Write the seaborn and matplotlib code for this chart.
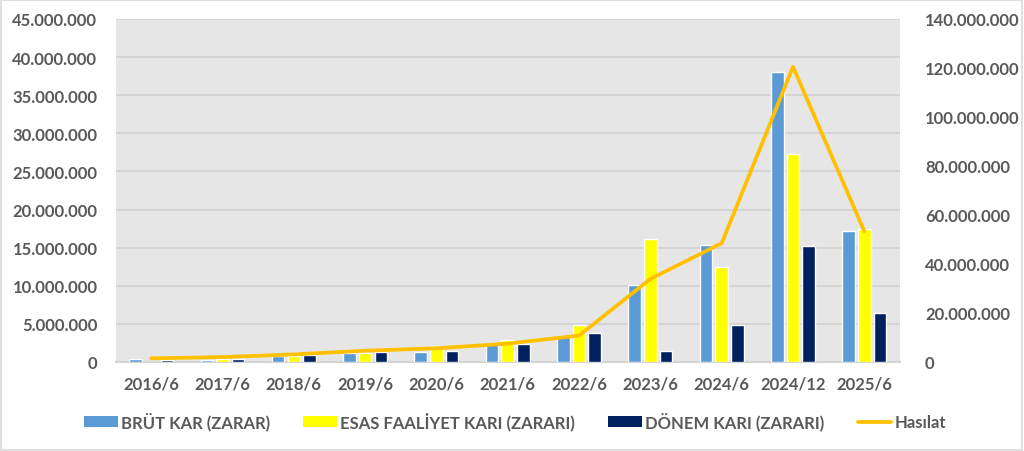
import numpy as np
import pandas as pd
import matplotlib
matplotlib.use("Agg")
import matplotlib.pyplot as plt
import seaborn as sns
from matplotlib.ticker import FuncFormatter, MultipleLocator
from matplotlib.lines import Line2D
from matplotlib.patches import Patch, Rectangle

periods = ["2016/6", "2017/6", "2018/6", "2019/6", "2020/6", "2021/6",
           "2022/6", "2023/6", "2024/6", "2024/12", "2025/6"]
brut_kar = [350000, 300000, 800000, 1150000, 1350000, 2500000,
            3300000, 10100000, 15400000, 38100000, 17200000]
esas_faaliyet = [60000, 450000, 800000, 1200000, 2100000, 2900000,
                 4800000, 16200000, 12500000, 27300000, 17400000]
donem_kari = [250000, 450000, 920000, 1350000, 1500000, 2350000,
              3800000, 1500000, 4900000, 15200000, 6400000]
hasilat = [1500000, 2000000, 3100000, 4600000, 5600000, 7500000,
           10800000, 33900000, 48500000, 120500000, 53300000]

series_names = ["BRÜT KAR (ZARAR)", "ESAS FAALİYET KARI (ZARARI)", "DÖNEM KARI (ZARARI)"]
line_name = "Hasılat"
colors = ["#5B9BD5", "#FFFF00", "#002060"]
line_color = "#FFC000"
text_color = "#595959"

df = pd.DataFrame({
    "period": periods * 3,
    "value": brut_kar + esas_faaliyet + donem_kari,
    "series": [series_names[0]] * len(periods) + [series_names[1]] * len(periods)
              + [series_names[2]] * len(periods),
})

sns.set_theme(style="white")
plt.rcParams["font.family"] = ["Lato", "DejaVu Sans"]

fig = plt.figure(figsize=(10.24, 4.52), dpi=100)
ax = fig.add_axes([115.5 / 1024, 1 - 363 / 452, (900 - 115.5) / 1024, (363 - 20) / 452])
ax.set_facecolor("#E6E6E6")

sns.barplot(data=df, x="period", y="value", hue="series", order=periods,
            hue_order=series_names, palette=colors, width=0.66, gap=0.2,
            saturation=1, ax=ax, legend=False, zorder=3)

ax.set_ylim(0, 45000000)
ax.yaxis.set_major_locator(MultipleLocator(5000000))
ax.grid(axis="y", color="#D4D4D4", linewidth=1.5, zorder=0)
ax.set_axisbelow(True)
ax.set_xlim(-0.5, len(periods) - 0.5)
ax.set_xlabel("")
ax.set_ylabel("")

fmt = FuncFormatter(lambda v, p: f"{int(round(v)):,}".replace(",", "."))
ax.yaxis.set_major_formatter(fmt)
for s in ["top", "right", "left"]:
    ax.spines[s].set_visible(False)
ax.spines["bottom"].set_color("#D4D4D4")
ax.spines["bottom"].set_linewidth(1.5)
ax.tick_params(axis="both", length=0, labelsize=12, labelcolor=text_color)
ax.tick_params(axis="y", pad=13)
ax.tick_params(axis="x", pad=10)
for lbl in ax.get_xticklabels() + ax.get_yticklabels():
    lbl.set_fontweight("bold")

ax2 = ax.twinx()
sns.lineplot(x=np.arange(len(periods)), y=hasilat, color=line_color,
             linewidth=2.7, ax=ax2, zorder=5)
ax2.set_ylim(0, 140000000)
ax2.yaxis.set_major_locator(MultipleLocator(20000000))
ax2.yaxis.set_major_formatter(fmt)
for s in ["top", "right", "left", "bottom"]:
    ax2.spines[s].set_visible(False)
ax2.tick_params(axis="y", length=0, labelsize=12, labelcolor=text_color, pad=18)
for lbl in ax2.get_yticklabels():
    lbl.set_fontweight("bold")
ax2.grid(False)
ax2.set_xlim(-0.5, len(periods) - 0.5)

handles = [Patch(facecolor=c, edgecolor="none") for c in colors]
handles.append(Line2D([0], [0], color=line_color, linewidth=2.7))
labels = series_names + [line_name]
leg = fig.legend(handles, labels, loc="center", ncol=4,
                 bbox_to_anchor=(515 / 1024, 1 - 422 / 452), frameon=False,
                 handlelength=2.0, handleheight=0.6, handletextpad=0.2,
                 columnspacing=2.0,
                 prop={"size": 12, "weight": "bold"})
for t in leg.get_texts():
    t.set_color(text_color)

fig.patches.append(Rectangle((0.001, 0.002), 0.997, 0.995, transform=fig.transFigure,
                             fill=False, edgecolor="#D9D9D9", linewidth=1.2))

fig.savefig("out.png", dpi=100)
